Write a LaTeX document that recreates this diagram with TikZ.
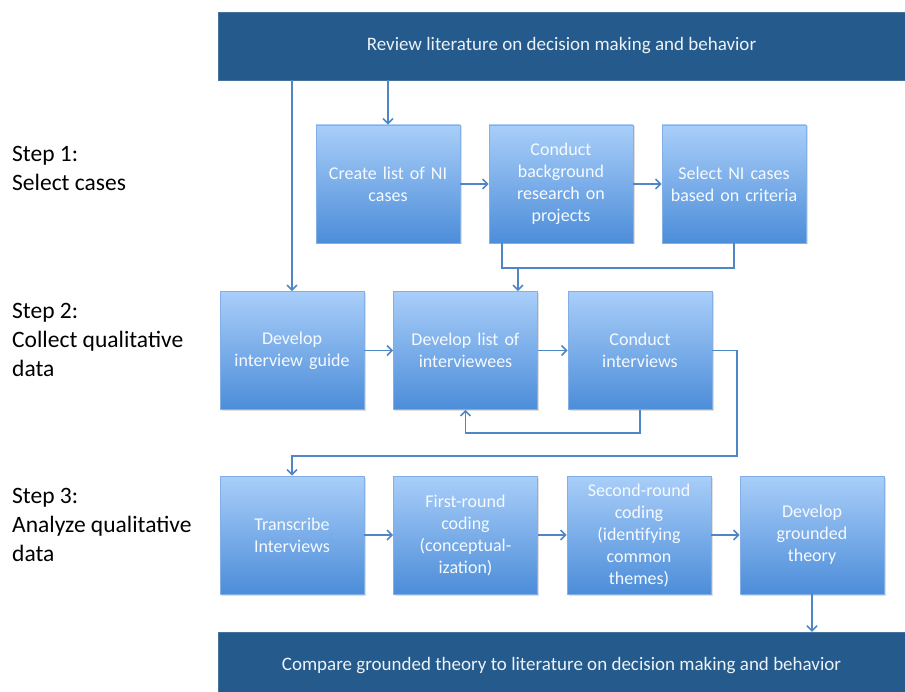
\documentclass[tikz,border=0pt]{standalone}
\usepackage{fontspec}
\setmainfont{Carlito}
\usepackage{xcolor}
\usetikzlibrary{arrows.meta, shadows}

\definecolor{bannerblue}{HTML}{245A8C}
\definecolor{boxtop}{HTML}{A9CEF9}
\definecolor{boxbottom}{HTML}{4C8DD9}
\definecolor{boxedge}{HTML}{82B0E6}
\definecolor{flowblue}{HTML}{4F86C6}

\tikzset{
  stepbox/.style={draw=boxedge, line width=0.6pt, top color=boxtop, bottom color=boxbottom,
    minimum width=144pt, minimum height=118pt, text width=140pt, align=center, inner sep=0pt,
    text=white!90!boxtop, font=\fontsize{18}{22}\selectfont,
    drop shadow={opacity=0.25, shadow xshift=1.5pt, shadow yshift=-1.5pt}},
  banner/.style={fill=bannerblue, draw=bannerblue!85!white, minimum width=687pt, minimum height=68pt,
    inner sep=0pt, text=white!92!bannerblue, font=\fontsize{19}{23}\selectfont},
  steplabel/.style={align=left, anchor=north west, inner sep=0pt, font=\fontsize{23.5}{29}\selectfont},
  line/.style={draw=flowblue, line width=1.6pt},
  flow/.style={line, -{Straight Barb[length=5pt, width=10pt]}}
}

\begin{document}
\begin{tikzpicture}[x=1pt, y=-1pt]
    \useasboundingbox (0,0) rectangle (905,692);

    % Khung đầu và khung cuối
    \node[banner] (review) at (561.5,46) {Review literature on decision making and behavior};
    \node[banner] (compare) at (561.5,666) {Compare grounded theory to literature on decision making and behavior};

    % Nhãn các bước
    \node[steplabel] (step1) at (12,146) {Step 1:\\Select cases};
    \node[steplabel] (step2) at (12,303) {Step 2:\\Collect qualitative\\data};
    \node[steplabel] (step3) at (12,488) {Step 3:\\Analyze qualitative\\data};

    % Bước 1
    \node[stepbox] (list) at (388,184) {Create list of NI\\cases};
    \node[stepbox] (research) at (561,184) {Conduct\\background\\research on\\projects};
    \node[stepbox] (select) at (734,184) {Select NI cases\\based on criteria};

    % Bước 2
    \node[stepbox] (guide) at (292,350.5) {Develop\\interview guide};
    \node[stepbox] (interviewees) at (465.5,350.5) {Develop list of\\interviewees};
    \node[stepbox] (conduct) at (640,350.5) {Conduct\\interviews};

    % Bước 3
    \node[stepbox] (transcribe) at (292,535) {Transcribe\\Interviews};
    \node[stepbox] (first) at (465.5,535) {First-round\\coding\\(conceptual-\\ization)};
    \node[stepbox] (second) at (639,535) {Second-round\\coding\\(identifying\\common\\themes)};
    \node[stepbox] (theory) at (812,535) {Develop\\grounded\\theory};

    % Điểm gấp khúc của các mũi tên
    \coordinate (join) at (518,268);
    \coordinate (loop) at (640,433);
    \coordinate (turn) at (737,456);

    % Mũi tên từ khung đầu
    \draw[flow] (review.south -| guide.north) -- (guide.north);
    \draw[flow] (review.south -| list.north) -- (list.north);

    % Mũi tên trong bước 1
    \draw[flow] (list) -- (research);
    \draw[flow] (research) -- (select);
    \draw[line] ([xshift=13pt]research.south west) |- (join) -| (select.south);
    \draw[flow] (join) -- (join |- interviewees.north);

    % Mũi tên trong bước 2
    \draw[flow] (guide) -- (interviewees);
    \draw[flow] (interviewees) -- (conduct);
    \draw[flow] (conduct.south) |- (loop) -| (interviewees.south);
    \draw[flow] (conduct.east) -| (turn) -| (transcribe.north);

    % Mũi tên trong bước 3
    \draw[flow] (transcribe) -- (first);
    \draw[flow] (first) -- (second);
    \draw[flow] (second) -- (theory);
    \draw[flow] (theory.south) -- (theory.south |- compare.north);
\end{tikzpicture}
\end{document}
